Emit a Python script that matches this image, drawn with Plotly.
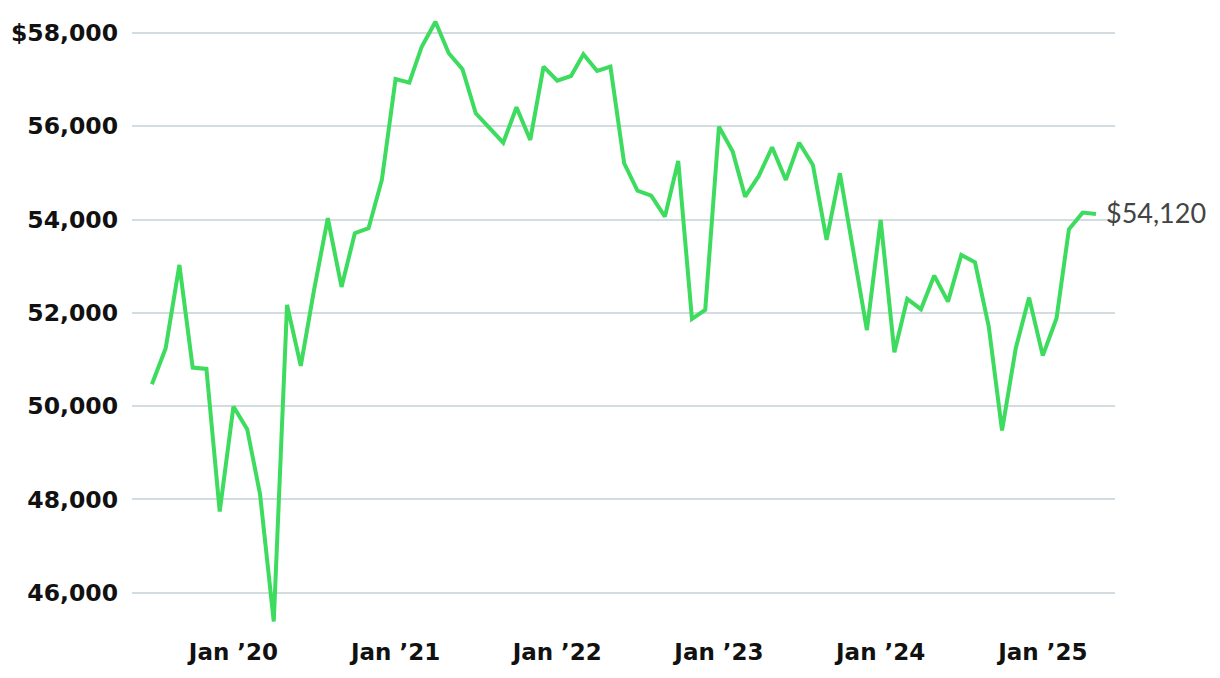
import plotly.graph_objects as go
import pandas as pd

start_month = "2019-07-01"
values = [
    50470, 51242, 53027, 50826, 50798, 47741, 49991, 49506, 48114, 45384,
    52170, 50863, 52491, 54027, 52555, 53706, 53813, 54848, 57012, 56933,
    57704, 58240, 57563, 57220, 56277, 55969, 55647, 56406, 55705, 57276,
    56976, 57076, 57541, 57184, 57276, 55206, 54619, 54512, 54062, 55255,
    51870, 52063, 55990, 55455, 54490, 54934, 55549, 54848, 55647, 55169,
    53562, 54992, 53314, 51630, 53991, 51156, 52298, 52077, 52798, 52240,
    53241, 53084, 51705, 49477, 51242, 52326, 51083, 51885, 53792, 54148,
    54120,
]
dates = pd.date_range(start_month, periods=len(values), freq="MS")

tick_dates = ["2020-01-01", "2021-01-01", "2022-01-01", "2023-01-01", "2024-01-01", "2025-01-01"]
tick_labels = ["Jan \u201920", "Jan \u201921", "Jan \u201922", "Jan \u201923", "Jan \u201924", "Jan \u201925"]
y_ticks = [46000, 48000, 50000, 52000, 54000, 56000, 58000]
y_tick_labels = ["46,000", "48,000", "50,000", "52,000", "54,000", "56,000", "$58,000"]
end_label = "$54,120"

fig = go.Figure()
fig.add_trace(go.Scatter(
    x=dates, y=values, mode="lines",
    line=dict(color="#3DDB5E", width=4),
    hoverinfo="skip",
))

fig.add_annotation(
    x=dates[-1], y=values[-1], text=end_label, showarrow=False,
    xanchor="left", yanchor="middle", xshift=8, yshift=1,
    font=dict(family="Lato", size=27, color="#444444"),
)

fig.update_layout(
    width=1212, height=670,
    margin=dict(l=124, r=105, t=2, b=48, autoexpand=False),
    paper_bgcolor="white", plot_bgcolor="white",
    showlegend=False,
    xaxis=dict(
        range=["2019-05-17", "2025-06-13"],
        tickvals=tick_dates, ticktext=tick_labels,
        showgrid=False, zeroline=False, showline=False, ticks="",
        tickfont=dict(family="DejaVu Sans", size=23, color="#111111", weight="bold"),
        ticklabelstandoff=6, automargin=False,
    ),
    yaxis=dict(
        range=[45201, 58491],
        tickvals=y_ticks, ticktext=y_tick_labels,
        showgrid=True, gridcolor="#D3DCE0", gridwidth=1.5,
        zeroline=False, showline=False, ticks="",
        tickfont=dict(family="DejaVu Sans", size=23.5, color="#111111", weight="bold"),
        ticklabelstandoff=13, automargin=False,
    ),
)

fig.write_html("out.html")
